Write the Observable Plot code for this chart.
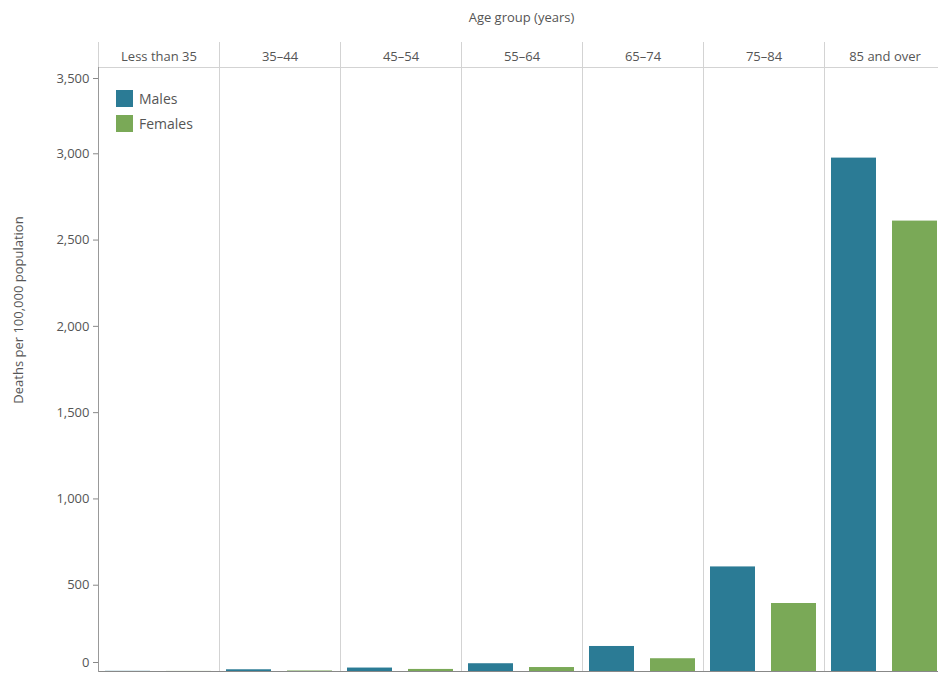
<!DOCTYPE html>
<html><head><meta charset="utf-8">
<script src="https://cdn.jsdelivr.net/npm/d3@7"></script>
<script src="https://cdn.jsdelivr.net/npm/@observablehq/plot@0.6"></script>
<style>
body{margin:0;background:#fff;font-family:"Open Sans",sans-serif;}
#wrap{position:relative;width:938px;height:673px;overflow:hidden;}
#chart{position:absolute;left:0;top:0;width:945px;}
#chart svg{max-width:none !important;width:945px;height:673px;}
#title{position:absolute;left:98px;width:847px;top:8px;text-align:center;font-size:13px;color:#555;}
#ylab{position:absolute;left:18px;top:310px;transform:translate(-50%,-50%) rotate(-90deg);white-space:nowrap;font-size:13px;color:#555;}
#legend{position:absolute;left:116px;top:90px;}
.lrow{display:flex;align-items:center;height:17px;margin-bottom:8px;}
.lsw{width:17px;height:17px;margin-right:6px;}
.ltx{font-size:14px;color:#555;}
</style>
</head><body>
<div id="wrap">
  <div id="chart"></div>
  <div id="title"></div>
  <div id="ylab"></div>
  <div id="legend"></div>
</div>
<script>
const ageGroups = ["Less than 35", "35–44", "45–54", "55–64", "65–74", "75–84", "85 and over"];
const sexes = ["Males", "Females"];
const males = [1, 10, 20, 45, 145, 606, 2975];
const females = [0.5, 3, 12, 23, 74, 394, 2610];
const yTicks = [0, 500, 1000, 1500, 2000, 2500, 3000, 3500];
const colors = ["#2b7b95", "#7aa957"];
const titleText = "Age group (years)";
const yLabel = "Deaths per 100,000 population";

const data = [];
ageGroups.forEach((a, i) => {
  data.push({age: a, sex: sexes[0], value: males[i]});
  data.push({age: a, sex: sexes[1], value: females[i]});
});

document.getElementById("title").textContent = titleText;
document.getElementById("ylab").textContent = yLabel;

const fmt = d3.format(",");
const axisStyle = {fontSize: 13, fill: "#555", stroke: "#888", tickSize: 5, tickPadding: 4, tickFormat: fmt, label: null};

const chart = Plot.plot({
  width: 945,
  height: 673,
  marginTop: 67,
  marginLeft: 98,
  marginRight: 0,
  marginBottom: 2,
  style: {fontFamily: "Open Sans, sans-serif", background: "transparent", maxWidth: "none"},
  fx: {domain: ageGroups, padding: 0, label: null},
  x: {domain: sexes, axis: null, paddingInner: 0.26, paddingOuter: 0.12},
  y: {domain: [0, 3500], axis: null},
  color: {domain: sexes, range: colors},
  marks: [
    Plot.frame({anchor: "left", stroke: "#d3d3d3", insetTop: -25}),
    Plot.frame({anchor: "top", stroke: "#d3d3d3"}),
    Plot.barY(data, {fx: "age", x: "sex", y: "value", fill: "sex"}),
    Plot.ruleY([0], {stroke: "#888"}),
    Plot.frame({anchor: "left", stroke: "#999", fx: [ageGroups[0]]}),
    Plot.axisFx({anchor: "top", tickSize: 0, tickPadding: 7, fontSize: 13, fill: "#555", label: null}),
    Plot.axisY(yTicks.slice(1, -1), axisStyle),
    Plot.axisY(yTicks.slice(-1), {...axisStyle, dy: 11}),
    Plot.axisY(yTicks.slice(0, 1), {...axisStyle, dy: -9})
  ]
});
document.getElementById("chart").appendChild(chart);

const legend = document.getElementById("legend");
sexes.forEach((s, i) => {
  const row = document.createElement("div");
  row.className = "lrow";
  const sw = document.createElement("div");
  sw.className = "lsw";
  sw.style.background = colors[i];
  const tx = document.createElement("span");
  tx.className = "ltx";
  tx.textContent = s;
  row.appendChild(sw);
  row.appendChild(tx);
  legend.appendChild(row);
});
</script>
</body></html>
